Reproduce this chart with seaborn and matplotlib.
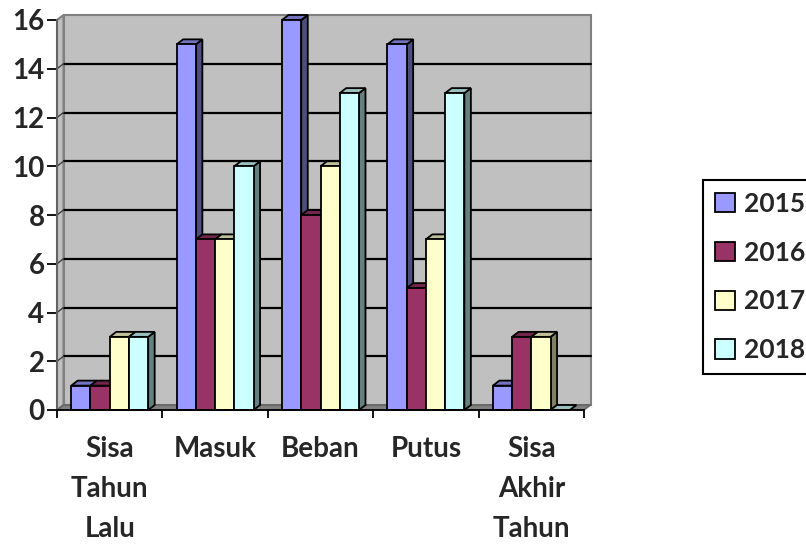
import matplotlib
matplotlib.use("Agg")
import matplotlib.pyplot as plt
from matplotlib.patches import Polygon, Patch
import numpy as np
import pandas as pd
import seaborn as sns

# chart data
categories = ["Sisa\nTahun\nLalu", "Masuk", "Beban", "Putus", "Sisa\nAkhir\nTahun"]
years = ["2015", "2016", "2017", "2018"]
v2015 = [1, 15, 16, 15, 1]
v2016 = [1, 7, 8, 5, 3]
v2017 = [3, 7, 10, 7, 3]
v2018 = [3, 10, 13, 13, 0]
yticks = [0, 2, 4, 6, 8, 10, 12, 14, 16]

colors = ["#9999FF", "#993366", "#FFFFCC", "#CCFFFF"]

rows = []
for year, vals in zip(years, [v2015, v2016, v2017, v2018]):
    for cat, v in zip(categories, vals):
        rows.append({"category": cat, "year": year, "value": v})
df = pd.DataFrame(rows)

sns.set_theme(style="white")
plt.rcParams["font.family"] = ["Lato", "DejaVu Sans"]
plt.rcParams["font.weight"] = "bold"

W, H = 806, 545
fig = plt.figure(figsize=(W / 100, H / 100), dpi=100)
ax_l, ax_r, ax_b, ax_t = 57, 584, 410, 20
ax = fig.add_axes([ax_l / W, (H - ax_b) / H, (ax_r - ax_l) / W, (ax_b - ax_t) / H])

sns.barplot(data=df, x="category", y="value", hue="year", order=categories,
            hue_order=years, palette=colors, width=0.73, saturation=1,
            edgecolor="black", linewidth=1.3, legend=False, ax=ax, zorder=3)
bars = list(ax.patches)

ax.set_xlim(-0.5, 4.5)
ax.set_ylim(0, 16)

# 3D depth in data units
dx = 6.5 / ((ax_r - ax_l) / 5)
dy = 5.0 / ((ax_b - ax_t) / 16)

# back wall, side wall, floor
wall = Polygon([(-0.5 + dx, dy), (4.5 + dx, dy), (4.5 + dx, 16 + dy), (-0.5 + dx, 16 + dy)],
               closed=True, facecolor="#C0C0C0", edgecolor="#808080", lw=1.5,
               zorder=0.5, clip_on=False)
side = Polygon([(-0.5, 0), (-0.5 + dx, dy), (-0.5 + dx, 16 + dy), (-0.5, 16)],
               closed=True, facecolor="#C0C0C0", edgecolor="#808080", lw=1.5,
               zorder=0.6, clip_on=False)
floor = Polygon([(-0.5, 0), (4.5, 0), (4.5 + dx, dy), (-0.5 + dx, dy)],
                closed=True, facecolor="#808080", edgecolor="#606060", lw=1,
                zorder=0.7, clip_on=False)
for p in (wall, side, floor):
    ax.add_patch(p)

for v in yticks[1:-1]:
    ax.plot([-0.5 + dx, 4.5 + dx], [v + dy, v + dy], color="black", lw=1.6,
            zorder=1, clip_on=False)
    ax.plot([-0.5, -0.5 + dx], [v, v + dy], color="#404040", lw=1,
            zorder=1, clip_on=False)

# side and top faces of the bars
def shade(c, f):
    rgb = np.array(matplotlib.colors.to_rgb(c))
    return tuple(rgb * f)

for b in sorted(bars, key=lambda p: p.get_x()):
    x0 = b.get_x()
    x1 = x0 + b.get_width()
    h = b.get_height()
    fc = b.get_facecolor()
    s = Polygon([(x1, 0), (x1, h), (x1 + dx, h + dy), (x1 + dx, dy)], closed=True,
                facecolor=shade(fc, 0.5), edgecolor="black", lw=1.3, zorder=2,
                clip_on=False)
    t = Polygon([(x0, h), (x1, h), (x1 + dx, h + dy), (x0 + dx, h + dy)], closed=True,
                facecolor=shade(fc, 0.75), edgecolor="black", lw=1.3, zorder=2,
                clip_on=False)
    ax.add_patch(s)
    ax.add_patch(t)
    b.set_clip_on(False)

# axes styling
for sp in ["top", "right"]:
    ax.spines[sp].set_visible(False)
ax.spines["left"].set_color("#606060")
ax.spines["left"].set_linewidth(1.3)
ax.spines["bottom"].set_color("black")
ax.spines["bottom"].set_linewidth(1.3)
ax.spines["left"].set_zorder(4)
ax.spines["bottom"].set_zorder(4)

ax.set_yticks(yticks)
ax.set_yticklabels([str(v) for v in yticks], fontsize=20, fontweight="bold")
ax.tick_params(axis="y", length=7, width=1.3, pad=2, color="black", left=True)

ax.set_xticks([i - 0.5 for i in range(6)])
ax.set_xticklabels([""] * 6)
ax.set_xticks(range(5), minor=True)
ax.set_xticklabels(categories, minor=True, fontsize=20, fontweight="bold",
                   linespacing=1.65)
ax.tick_params(axis="x", which="major", length=6, width=1.3, color="black", bottom=True)
ax.tick_params(axis="x", which="minor", length=0, pad=19)
ax.set_xlabel("")
ax.set_ylabel("")

handles = [Patch(facecolor=c, edgecolor="black", linewidth=1.3, label=y)
           for c, y in zip(colors, years)]
leg = ax.legend(handles=handles, loc="upper left",
                bbox_to_anchor=(703 / W, 1 - 180 / H), bbox_transform=fig.transFigure,
                frameon=True, fancybox=False, edgecolor="black", framealpha=1,
                prop={"size": 19, "weight": "bold"}, handlelength=0.75,
                handleheight=0.75, handletextpad=0.35, labelspacing=0.94,
                borderpad=0.45, borderaxespad=0)
leg.get_frame().set_linewidth(1.5)

fig.savefig("out.png", dpi=100)
